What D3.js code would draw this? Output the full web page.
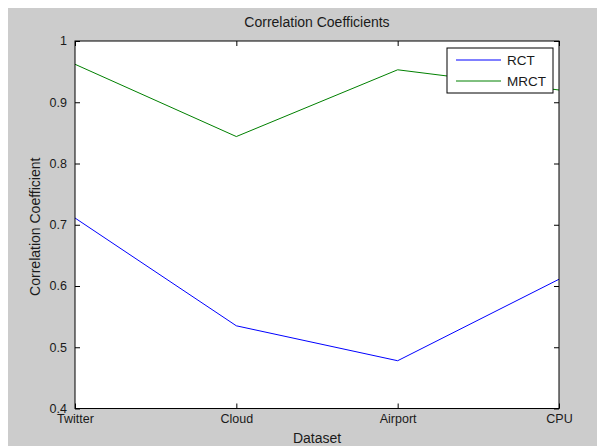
<!DOCTYPE html>
<html>
<head>
<meta charset="utf-8">
<script src="https://cdn.jsdelivr.net/npm/d3@7"></script>
<style>
  body { margin: 0; background: #ffffff; }
  text { font-family: Arial, "Liberation Sans", sans-serif; fill: #1a1a1a; }
</style>
</head>
<body>
<div id="chart"></div>
<script>
// data
var datasets = ["Twitter", "Cloud", "Airport", "CPU"];
var rct = [0.711, 0.535, 0.478, 0.611];
var mrct = [0.962, 0.844, 0.953, 0.920];
var yTicks = [0.4, 0.5, 0.6, 0.7, 0.8, 0.9, 1];

var series = [
    { name: "RCT", color: "#0000ff", values: rct },
    { name: "MRCT", color: "#008000", values: mrct }
];

var W = 597, H = 446;
var margin = { top: 41, right: 38, bottom: 37.5, left: 75 };
var width = W - margin.left - margin.right,
    height = H - margin.top - margin.bottom;

var svg = d3.select("#chart").append("svg")
    .attr("width", W)
    .attr("height", H);

// grey figure background
svg.append("rect")
    .attr("x", 8).attr("y", 8)
    .attr("width", W - 8).attr("height", H - 8)
    .attr("fill", "#cccccc");

var g = svg.append("g")
    .attr("transform", "translate(" + margin.left + "," + margin.top + ")");

var x = d3.scalePoint().domain(datasets).range([0, width]);
var y = d3.scaleLinear().domain([0.4, 1]).range([height, 0]);

g.append("rect")
    .attr("width", width).attr("height", height)
    .attr("fill", "#ffffff");

// lines
var line = d3.line()
    .x(function(d, i) { return x(datasets[i]); })
    .y(function(d) { return y(d); });

g.selectAll(".series")
    .data(series)
    .enter().append("path")
    .attr("class", "series")
    .attr("d", function(d) { return line(d.values); })
    .attr("fill", "none")
    .attr("stroke", function(d) { return d.color; })
    .attr("stroke-width", 1);

// axes, ticks inward like matlab
var tickLen = 5;
var xAxis = d3.axisBottom(x).tickSizeInner(-tickLen).tickSizeOuter(0).tickPadding(8);
var yAxis = d3.axisLeft(y).tickValues(yTicks).tickFormat(d3.format("")).tickSizeInner(-tickLen).tickSizeOuter(0).tickPadding(8);

var gx = g.append("g").attr("transform", "translate(0," + height + ")").call(xAxis);
var gy = g.append("g").call(yAxis);
var gxTop = g.append("g").call(d3.axisTop(x).tickSizeInner(-tickLen).tickSizeOuter(0).tickFormat(""));
var gyRight = g.append("g").attr("transform", "translate(" + width + ",0)")
    .call(d3.axisRight(y).tickValues(yTicks).tickSizeInner(-tickLen).tickSizeOuter(0).tickFormat(""));

[gx, gy, gxTop, gyRight].forEach(function(a) {
    a.select(".domain").remove();
    a.selectAll("line").attr("stroke", "#000");
    a.selectAll("text").style("font-size", "12.5px").attr("fill", "#1a1a1a");
});
gx.selectAll("text").attr("dy", "0.55em");
gy.selectAll("text").attr("dy", "0.3em");

// box
g.append("rect")
    .attr("width", width).attr("height", height)
    .attr("fill", "none").attr("stroke", "#000").attr("stroke-width", 1);

// labels
svg.append("text")
    .attr("x", margin.left + width / 2).attr("y", 27)
    .attr("text-anchor", "middle")
    .style("font-size", "14px")
    .text("Correlation Coefficients");

svg.append("text")
    .attr("x", margin.left + width / 2).attr("y", 443)
    .attr("text-anchor", "middle")
    .style("font-size", "14px")
    .text("Dataset");

svg.append("text")
    .attr("transform", "translate(40," + (margin.top + height / 2 + 2) + ") rotate(-90)")
    .attr("text-anchor", "middle")
    .style("font-size", "14px")
    .text("Correlation Coefficient");

// legend
var legend = svg.append("g").attr("transform", "translate(447,48)");
legend.append("rect")
    .attr("width", 106).attr("height", 45)
    .attr("fill", "#ffffff").attr("stroke", "#000");

var item = legend.selectAll(".item")
    .data(series)
    .enter().append("g")
    .attr("transform", function(d, i) { return "translate(0," + (12 + i * 21) + ")"; });

item.append("line")
    .attr("x1", 9).attr("x2", 54)
    .attr("stroke", function(d) { return d.color; });

item.append("text")
    .attr("x", 60).attr("dy", "0.35em")
    .style("font-size", "13.5px")
    .text(function(d) { return d.name; });
</script>
</body>
</html>
